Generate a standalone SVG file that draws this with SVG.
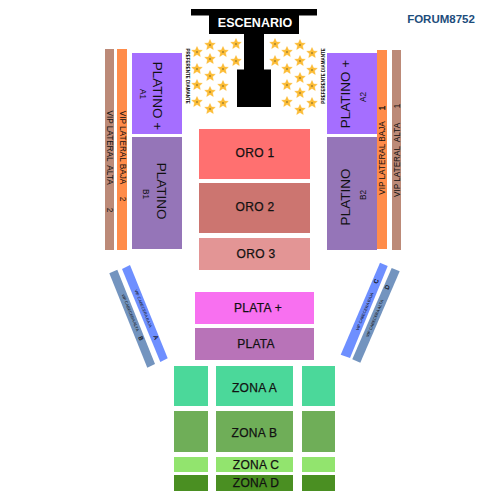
<svg xmlns="http://www.w3.org/2000/svg" width="500" height="500" viewBox="0 0 500 500">
<style>
text{font-family:"Liberation Sans",Arial,sans-serif;fill:#111;text-anchor:middle;white-space:pre}
.m{font-size:12px;letter-spacing:.3px;stroke:#111;stroke-width:.25px}
.v{font-size:8.200px}
.l{font-size:13.500px}
.d{font-size:4px}
.e{font-size:6px;stroke:#111;stroke-width:.2px}
.s{font-size:4.500px;font-weight:bold}
</style>
<defs>
<g id="star"><polygon points="0,-5.500 1.600,-2 5.300,-1.700 2.500,0.800 3.300,4.500 0,2.500 -3.300,4.500 -2.500,0.800 -5.300,-1.700 -1.600,-2" fill="#fcbc35" stroke="#fcbc35" stroke-width=".4" stroke-linejoin="round"/><circle r="1" fill="#a8842c"/></g>
</defs>
<text x="441" y="23" style="font-size:11.500px;font-weight:bold;fill:#1d4d7c">FORUM8752</text>
<g id="stage">
<path d="M191 9H317V15.500H299V34H264V69.500H271V107H237V69.500H244V34H209V15.500H191Z" fill="#000"/>
<text x="255" y="27" style="font-size:12.500px;font-weight:bold;fill:#fff">ESCENARIO</text>
</g>
<g id="stars">
<use href="#star" x="197" y="52"/><use href="#star" x="210" y="45"/><use href="#star" x="223" y="52"/><use href="#star" x="236" y="44"/><use href="#star" x="210" y="59"/><use href="#star" x="236" y="61"/><use href="#star" x="197" y="69"/><use href="#star" x="223" y="69"/><use href="#star" x="210" y="76"/><use href="#star" x="197" y="85"/><use href="#star" x="223" y="86"/><use href="#star" x="210" y="92"/><use href="#star" x="197" y="102"/><use href="#star" x="223" y="103"/><use href="#star" x="210" y="109"/>
<use href="#star" x="275" y="44"/><use href="#star" x="287" y="52"/><use href="#star" x="300" y="45"/><use href="#star" x="312" y="53"/><use href="#star" x="275" y="61"/><use href="#star" x="287" y="69"/><use href="#star" x="300" y="61"/><use href="#star" x="312" y="70"/><use href="#star" x="300" y="78"/><use href="#star" x="287" y="85"/><use href="#star" x="312" y="86"/><use href="#star" x="300" y="93"/><use href="#star" x="287" y="102"/><use href="#star" x="312" y="103"/><use href="#star" x="300" y="110"/>
</g>
<g id="diamante-left"><text class="s" transform="translate(185.500,76) rotate(90)">PREFERENTE DIAMANTE</text></g>
<g id="diamante-right"><text class="s" transform="translate(324.500,76) rotate(-90)">PREFERENTE DIAMANTE</text></g>
<g id="vip-alta-2"><rect x="105" y="49" width="9" height="201" fill="#bc8a78"/><text class="v" transform="translate(107,147.500) rotate(90)">VIP LATERAL  ALTA</text><text class="v" transform="translate(107,210) rotate(90)">2</text></g>
<g id="vip-baja-2"><rect x="117" y="49" width="10" height="201" fill="#ff8c4a"/><text class="v" transform="translate(120,147.500) rotate(90)">VIP LATERAL BAJA</text><text class="v" transform="translate(120,199) rotate(90)">2</text></g>
<g id="platino-plus-a1"><rect x="132" y="53" width="50" height="81" fill="#a56eff"/><text class="l" transform="translate(153,96) rotate(90)">PLATINO +</text><text class="v" transform="translate(140,94) rotate(90)">A1</text></g>
<g id="platino-b1"><rect x="132" y="137" width="50" height="112" fill="#9575b8"/><text class="l" transform="translate(157,191) rotate(90)">PLATINO</text><text class="v" transform="translate(143,194) rotate(90)">B1</text></g>
<g id="platino-plus-a2"><rect x="327" y="53" width="50" height="81" fill="#a56eff"/><text class="l" transform="translate(350,94) rotate(-90)">PLATINO +</text><text class="v" transform="translate(366,97) rotate(-90)">A2</text></g>
<g id="platino-b2"><rect x="327" y="137" width="50" height="113" fill="#9575b8"/><text class="l" transform="translate(350,197) rotate(-90)">PLATINO</text><text class="v" transform="translate(366,195) rotate(-90)">B2</text></g>
<g id="vip-baja-1"><rect x="377" y="50" width="10" height="199" fill="#ff8c4a"/><text class="v" transform="translate(384.500,158) rotate(-90)">VIP LATERAL BAJA</text><text class="v" style="stroke:#111;stroke-width:.3px" transform="translate(384.500,108) rotate(-90)">1</text></g>
<g id="vip-alta-1"><rect x="392" y="50" width="9" height="200" fill="#bc8a78"/><text class="v" transform="translate(400,160) rotate(-90)">VIP LATERAL  ALTA</text><text class="v" transform="translate(400,106) rotate(-90)">1</text></g>
<g id="oro-1"><rect x="199" y="129" width="111" height="50" fill="#ff7070"/><text class="m" x="255" y="157">ORO 1</text></g>
<g id="oro-2"><rect x="199" y="183" width="111" height="50" fill="#cc7570"/><text class="m" x="255" y="211">ORO 2</text></g>
<g id="oro-3"><rect x="199" y="238" width="111" height="32" fill="#e39595"/><text class="m" x="256" y="258">ORO 3</text></g>
<g id="plata-plus"><rect x="195" y="292" width="119" height="32" fill="#f870f0"/><text class="m" x="258" y="312">PLATA +</text></g>
<g id="plata"><rect x="195" y="328" width="119" height="32" fill="#b873b8"/><text class="m" x="256" y="348">PLATA</text></g>
<g id="diag-b"><polygon points="109.300,273.300 117.300,269.700 155,364 147.300,367.700" fill="#7394bf"/><text class="d" transform="translate(129,313) rotate(68)">VIP CABECERA ALTA</text><text class="e" transform="translate(139,339) rotate(68)">B</text></g>
<g id="diag-a"><polygon points="122,269 130,265 167.700,358.300 160.300,362" fill="#6e8fff"/><text class="d" transform="translate(142,309) rotate(68)">VIP CABECERA BAJA</text><text class="e" transform="translate(154,338) rotate(68)">A</text></g>
<g id="diag-c"><polygon points="380,262.700 387.700,266 350,358 340.700,354.700" fill="#6e8fff"/><text class="d" transform="translate(366,312) rotate(-68)">VIP CABECERA BAJA</text><text class="e" transform="translate(378,282) rotate(-68)">C</text></g>
<g id="diag-d"><polygon points="391.700,268 399.700,271.300 360.300,362.700 352.300,359.300" fill="#7394bf"/><text class="d" transform="translate(376,319) rotate(-68)">VIP CABECERA ALTA</text><text class="e" transform="translate(389,288) rotate(-68)">D</text></g>
<g id="zona-a"><rect x="174" y="366" width="34" height="40" fill="#4bd89a"/><rect x="216" y="366" width="77" height="40" fill="#4bd89a"/><rect x="302" y="366" width="33" height="40" fill="#4bd89a"/><text class="m" x="254.500" y="392">ZONA A</text></g>
<g id="zona-b"><rect x="174" y="411" width="34" height="41" fill="#6fae58"/><rect x="216" y="411" width="77" height="41" fill="#6fae58"/><rect x="302" y="411" width="33" height="41" fill="#6fae58"/><text class="m" x="254.500" y="437">ZONA B</text></g>
<g id="zona-c"><rect x="174" y="457" width="34" height="15" fill="#92e46e"/><rect x="216" y="457" width="77" height="15" fill="#92e46e"/><rect x="302" y="457" width="33" height="15" fill="#92e46e"/><text class="m" x="256" y="469">ZONA C</text></g>
<g id="zona-d"><rect x="174" y="475" width="34" height="16" fill="#4a8f22"/><rect x="216" y="475" width="77" height="16" fill="#4a8f22"/><rect x="302" y="475" width="33" height="16" fill="#4a8f22"/><text class="m" x="256" y="487">ZONA D</text></g>
</svg>
